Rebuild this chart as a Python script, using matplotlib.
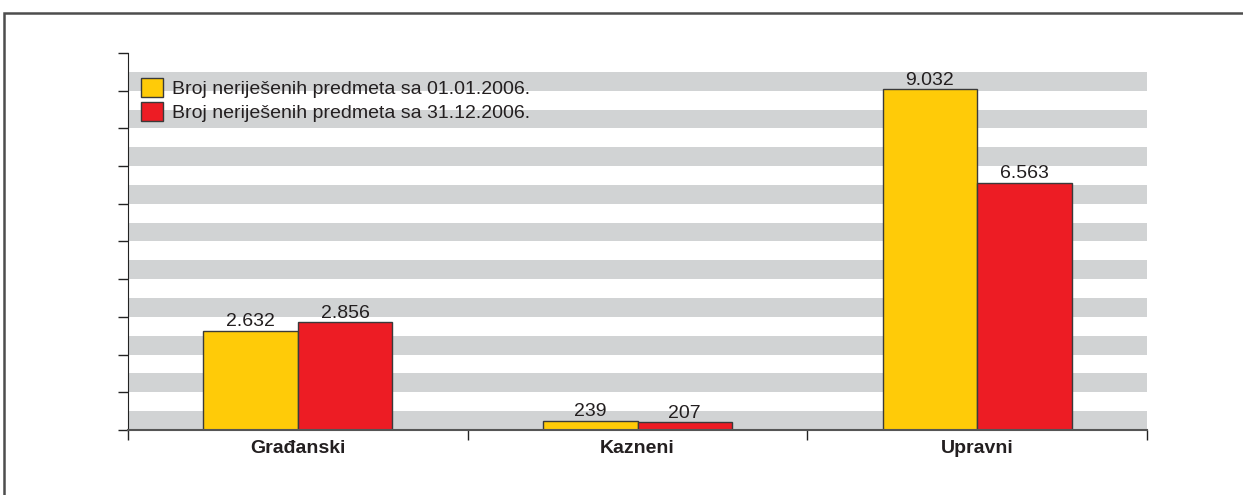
import numpy as np
import matplotlib.pyplot as plt
from matplotlib import font_manager
from matplotlib.patches import Rectangle, Patch

# data
categories = ["Građanski", "Kazneni", "Upravni"]
start_2006 = [2632, 239, 9032]
end_2006 = [2856, 207, 6563]
value_labels_start = ["2.632", "239", "9.032"]
value_labels_end = ["2.856", "207", "6.563"]
series_names = ["Broj neriješenih predmeta sa 01.01.2006.",
                "Broj neriješenih predmeta sa 31.12.2006."]

names = {f.name for f in font_manager.fontManager.ttflist}
narrow = "Liberation Sans Narrow" in names
plt.rcParams["font.family"] = ["Liberation Sans Narrow" if narrow else "Liberation Sans", "DejaVu Sans"]
fs = 16.5 if narrow else 14
print(narrow)

text_color = "#231f20"
yellow = "#ffcb08"
red = "#ed1c24"
band = "#d1d3d4"
edge = "#3a3a3a"

fig = plt.figure(figsize=(12.43, 4.95), dpi=100)
ax = fig.add_axes([128 / 1243, 65 / 495, 1019 / 1243, 377 / 495])

# outer frame
fig.patches.append(Rectangle((4 / 1243, -0.1), 1.2, (495 - 13) / 495 + 0.1,
                             transform=fig.transFigure, fill=False,
                             edgecolor="#4d4d4d", linewidth=1.8, clip_on=False))

# striped background
for i in range(10):
    ax.axhspan(i * 1000, i * 1000 + 500, color=band, lw=0, zorder=0)

x = np.arange(len(categories))
w = 0.278
b1 = ax.bar(x - w / 2, start_2006, w, color=yellow, edgecolor=edge, linewidth=1.0, zorder=2)
b2 = ax.bar(x + w / 2, end_2006, w, color=red, edgecolor=edge, linewidth=1.0, zorder=2)

for bars, labels in ((b1, value_labels_start), (b2, value_labels_end)):
    for rect, lab in zip(bars, labels):
        ax.annotate(lab, (rect.get_x() + rect.get_width() / 2, rect.get_height()),
                    xytext=(0, 0.5), textcoords="offset points", ha="center", va="bottom",
                    fontsize=fs, color=text_color)

ax.set_xlim(-0.5, 2.5)
ax.set_ylim(0, 10000)
ax.set_yticks(np.arange(0, 10001, 1000))
ax.set_yticklabels([])
ax.set_xticks([-0.5, 0.5, 1.5, 2.5])
ax.set_xticklabels([])
ax.set_xticks(x, minor=True)
ax.set_xticklabels(categories, minor=True, fontsize=14, fontweight="bold", color=text_color,
                   family=["Liberation Sans", "DejaVu Sans"])
ax.tick_params(axis="x", which="minor", length=0, pad=7)
ax.tick_params(axis="both", which="major", length=7, width=1, direction="out", color="#222222")
for s in ("top", "right"):
    ax.spines[s].set_visible(False)
ax.spines["left"].set_color("#222222")
ax.spines["bottom"].set_color("#555555")
ax.spines["bottom"].set_linewidth(1.5)

handles = [Patch(facecolor=yellow, edgecolor=edge, linewidth=1.0),
           Patch(facecolor=red, edgecolor=edge, linewidth=1.0)]
ax.legend(handles, series_names, loc="upper left", bbox_to_anchor=(0.0128, 0.935),
          frameon=False, fontsize=fs, handlelength=22 / (fs * 100 / 72), handleheight=22 / (fs * 100 / 72),
          handletextpad=9 / (fs * 100 / 72), labelspacing=0.2, borderpad=0, borderaxespad=0,
          labelcolor=text_color)

fig.savefig("out.png", dpi=100)
